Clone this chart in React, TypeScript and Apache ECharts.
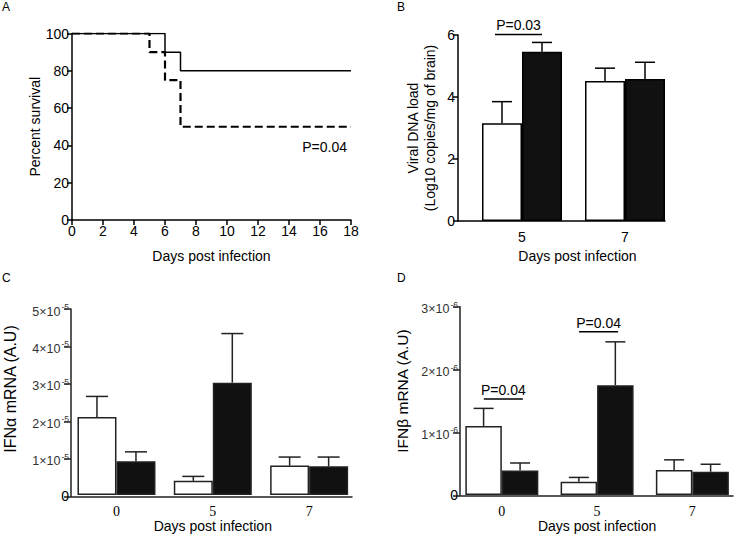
import React, { useEffect, useRef } from 'react';
import * as echarts from 'echarts';

// ---------- Data ----------
const survivalSolid: [number, number][] = [[0, 100], [6, 90], [7, 80], [18, 80]];
const survivalDashed: [number, number][] = [[0, 100], [5, 90], [6, 75], [7, 50], [18, 50]];
const survivalP = { x: 16.3, y: 39, text: 'P=0.04' };
const survivalXTicks = { min: 0, max: 18, interval: 2 };
const survivalYTicks = { min: 0, max: 100, interval: 20 };

const bDays = ['5', '7'];
const bWhite = [3.15, 4.52];
const bWhiteSem = [0.70, 0.41];
const bBlack = [5.46, 4.58];
const bBlackSem = [0.30, 0.54];
const bSig = [{ cat: 0, y: 6.02, text: 'P=0.03' }];

const cdDays = ['0', '5', '7'];
const cWhite = [2.10e-5, 0.38e-5, 0.79e-5];
const cWhiteSem = [0.55e-5, 0.12e-5, 0.23e-5];
const cBlack = [0.91e-5, 3.02e-5, 0.77e-5];
const cBlackSem = [0.25e-5, 1.32e-5, 0.25e-5];

const dWhite = [1.10e-6, 0.21e-6, 0.40e-6];
const dWhiteSem = [0.28e-6, 0.07e-6, 0.16e-6];
const dBlack = [0.39e-6, 1.75e-6, 0.37e-6];
const dBlackSem = [0.12e-6, 0.69e-6, 0.12e-6];
const dSig = [
  { cat: 0, y: 1.53e-6, text: 'P=0.04' },
  { cat: 1, y: 2.60e-6, text: 'P=0.04' },
];

// ---------- Styles ----------
const SANS = '"Liberation Sans", Arial, sans-serif';
const SERIF = '"Liberation Serif", "Times New Roman", serif';

function sciFormatter(unit: number, exp: string) {
  return (v: number) => (v === 0 ? '{z|0}' : `{b|${Math.round(v / unit)}×10}{s|${exp}}`);
}

function buildBarPanel(p: any, gi: number) {
  const fi = gi; // frame index
  const di = gi + 1; // data index
  const grids = [
    { left: p.frame.left, top: p.frame.top, width: p.frame.width, height: p.frame.height },
    { left: p.dataLeft, top: p.frame.top, width: p.dataWidth, height: p.frame.height },
  ];
  const lineStyle = { color: p.lineColor, width: 1.5 };
  const xAxes = [
    {
      gridIndex: fi, type: 'value', min: 0, max: 1,
      axisLine: { show: true, lineStyle }, axisTick: { show: false },
      axisLabel: { show: false }, splitLine: { show: false },
    },
    {
      gridIndex: di, type: 'category', data: p.cats,
      axisLine: { show: false }, axisTick: { show: false },
      axisLabel: { fontSize: 14, color: '#000', fontFamily: p.catFont, margin: p.catMargin },
      splitLine: { show: false },
      name: 'Days post infection', nameLocation: 'middle', nameGap: p.xNameGap,
      nameTextStyle: { fontSize: 14, color: '#000', fontFamily: SANS, padding: p.xNamePad || 0 },
    },
  ];
  const yAxes = [
    {
      gridIndex: fi, type: 'value', min: 0, max: p.yMax, interval: p.yInterval,
      axisLine: { show: true, lineStyle }, axisTick: { show: true, length: p.tickLen, lineStyle },
      axisLabel: {
        fontSize: 14, color: p.labelColor, fontFamily: SANS, margin: p.labelMargin,
        formatter: p.yFormatter,
        rich: p.rich,
      },
      splitLine: { show: false },
      name: p.yName || '', nameLocation: 'middle', nameGap: p.yNameGap || 0,
      nameTextStyle: { fontSize: 14, color: '#000', fontFamily: SANS, lineHeight: 17 },
    },
    { gridIndex: di, type: 'value', min: 0, max: p.yMax, show: false },
  ];
  const errSeries = (values: number[], sems: number[], side: number) => ({
    type: 'custom', xAxisIndex: di, yAxisIndex: di, z: 4,
    data: values.map((v, i) => [i, v, v + sems[i]]),
    renderItem: (_params: any, api: any) => {
      const base = api.coord([api.value(0), api.value(1)]);
      const top = api.coord([api.value(0), api.value(2)]);
      const x = base[0] + (side * p.barWidth) / 2;
      const st = { stroke: p.lineColor, lineWidth: 1.5 };
      return {
        type: 'group',
        children: [
          { type: 'line', shape: { x1: x, y1: base[1], x2: x, y2: top[1] }, style: st },
          { type: 'line', shape: { x1: x - p.capWidth / 2, y1: top[1], x2: x + p.capWidth / 2, y2: top[1] }, style: st },
        ],
      };
    },
  });
  const series: any[] = [
    {
      type: 'bar', xAxisIndex: di, yAxisIndex: di, data: p.white, barWidth: p.barWidth, barGap: '0%',
      itemStyle: { color: '#fff', borderColor: p.lineColor, borderWidth: 1.5 }, z: 3,
    },
    {
      type: 'bar', xAxisIndex: di, yAxisIndex: di, data: p.black, barWidth: p.barWidth, barGap: '0%',
      itemStyle: { color: '#111', borderColor: p.lineColor, borderWidth: 1.5 }, z: 3,
    },
    errSeries(p.white, p.whiteSem, -1),
    errSeries(p.black, p.blackSem, 1),
  ];
  if (p.sig && p.sig.length) {
    series.push({
      type: 'custom', xAxisIndex: di, yAxisIndex: di, z: 5,
      data: p.sig.map((s: any) => [s.cat, s.y]),
      renderItem: (params: any, api: any) => {
        const c = api.coord([api.value(0), api.value(1)]);
        const x1 = c[0] + p.sigSpan[0];
        const x2 = c[0] + p.sigSpan[1];
        const text = p.sig[params.dataIndex].text;
        return {
          type: 'group',
          children: [
            { type: 'line', shape: { x1, y1: c[1], x2, y2: c[1] }, style: { stroke: '#000', lineWidth: 1.5 } },
            {
              type: 'text', x: (x1 + x2) / 2, y: c[1] - 2,
              style: { text, fontSize: 14, fontFamily: SANS, fill: '#000', align: 'center', verticalAlign: 'bottom' },
            },
          ],
        };
      },
    });
  }
  return { grids, xAxes, yAxes, series };
}

function buildOption() {
  const axisLine = { show: true, lineStyle: { color: '#000', width: 1.5 } };
  const tick = { show: true, length: 5, lineStyle: { color: '#000', width: 1.5 } };
  const grids: any[] = [{ left: 72, top: 33.5, width: 279, height: 186.5 }];
  const xAxes: any[] = [
    {
      gridIndex: 0, type: 'value', ...survivalXTicks,
      axisLine, axisTick: tick,
      axisLabel: { fontSize: 14, color: '#000', fontFamily: SANS, margin: 4 },
      splitLine: { show: false },
      name: 'Days post infection', nameLocation: 'middle', nameGap: 29,
      nameTextStyle: { fontSize: 14, color: '#000', fontFamily: SANS },
    },
  ];
  const yAxes: any[] = [
    {
      gridIndex: 0, type: 'value', ...survivalYTicks,
      axisLine, axisTick: tick,
      axisLabel: { fontSize: 14, color: '#000', fontFamily: SANS, margin: 3 },
      splitLine: { show: false },
      name: 'Percent survival', nameLocation: 'middle', nameGap: 28,
      nameTextStyle: { fontSize: 14, color: '#000', fontFamily: SANS },
    },
  ];
  const series: any[] = [
    {
      type: 'line', xAxisIndex: 0, yAxisIndex: 0, data: survivalSolid, step: 'end', symbol: 'none',
      lineStyle: { color: '#000', width: 1.5 }, z: 3,
    },
    {
      type: 'line', xAxisIndex: 0, yAxisIndex: 0, data: survivalDashed, step: 'end', symbol: 'none',
      lineStyle: { color: '#000', width: 2.2, type: [8, 4] }, z: 3,
    },
    {
      type: 'custom', xAxisIndex: 0, yAxisIndex: 0,
      data: [[survivalP.x, survivalP.y]],
      renderItem: (_p: any, api: any) => {
        const c = api.coord([api.value(0), api.value(1)]);
        return {
          type: 'text', x: c[0], y: c[1],
          style: { text: survivalP.text, fontSize: 14, fontFamily: SANS, fill: '#000', align: 'center', verticalAlign: 'middle' },
        };
      },
    },
  ];

  const richSci = {
    z: { fontSize: 14, color: '#000', fontFamily: SANS },
    b: { fontSize: 12.5, color: '#333', fontFamily: SANS, padding: [5, 0, 0, 0] },
    s: { fontSize: 8.5, color: '#333', fontFamily: SANS, padding: [0, 0, 4, 1] },
  };

  const panels = [
    buildBarPanel({
      frame: { left: 458, top: 35, width: 207, height: 186 }, dataLeft: 470.5, dataWidth: 206,
      yMax: 6, yInterval: 2, labelColor: '#000', labelMargin: 3, tickLen: 5,
      yName: 'Viral DNA load\n(Log10 copies/mg of brain)', yNameGap: 20,
      cats: bDays, catFont: SANS, catMargin: 9, xNameGap: 28, xNamePad: [0, 0, 0, 8],
      white: bWhite, whiteSem: bWhiteSem, black: bBlack, blackSem: bBlackSem,
      barWidth: 40, capWidth: 20, sig: bSig, sigSpan: [-27, 20], lineColor: '#000',
    }, 1),
    buildBarPanel({
      frame: { left: 71, top: 309, width: 281, height: 187.3 }, dataLeft: 68.3, dataWidth: 289,
      yMax: 5e-5, yInterval: 1e-5, labelColor: '#333', labelMargin: 2, tickLen: 7,
      yFormatter: sciFormatter(1e-5, '-5'), rich: richSci,
      cats: cdDays, catFont: SERIF, catMargin: 9, xNameGap: 24,
      white: cWhite, whiteSem: cWhiteSem, black: cBlack, blackSem: cBlackSem,
      barWidth: 39, capWidth: 22, sig: [], sigSpan: [0, 0], lineColor: '#222',
    }, 3),
    buildBarPanel({
      frame: { left: 460, top: 306.7, width: 273, height: 188.6 }, dataLeft: 454.2, dataWidth: 289.5,
      yMax: 3e-6, yInterval: 1e-6, labelColor: '#333', labelMargin: 2, tickLen: 7,
      yFormatter: sciFormatter(1e-6, '-6'), rich: richSci,
      cats: cdDays, catFont: SERIF, catMargin: 9, xNameGap: 24,
      white: dWhite, whiteSem: dWhiteSem, black: dBlack, blackSem: dBlackSem,
      barWidth: 36.5, capWidth: 20, sig: dSig, sigSpan: [-18, 21], lineColor: '#222',
    }, 5),
  ];
  for (const pn of panels) {
    grids.push(...pn.grids);
    xAxes.push(...pn.xAxes);
    yAxes.push(...pn.yAxes);
    series.push(...pn.series);
  }

  const letter = (text: string, left: number, top: number) => ({
    type: 'text', left, top,
    style: { text, fontSize: 12, fontFamily: SANS, fill: '#000' },
  });
  const vTitle = (text: string, x: number, y: number, size: number) => ({
    type: 'text', x, y, rotation: Math.PI / 2,
    style: { text, fontSize: size, fontFamily: SANS, fill: '#000', align: 'center', verticalAlign: 'middle' },
  });

  return {
    animation: false,
    backgroundColor: '#fff',
    grid: grids,
    xAxis: xAxes,
    yAxis: yAxes,
    series,
    graphic: [
      letter('A', 2, 1),
      letter('B', 397, 1),
      letter('C', 2, 272),
      letter('D', 397, 272),
      vTitle('IFNα mRNA (A.U)', 10, 389, 16),
      vTitle('IFNβ mRNA (A.U)', 402, 391, 15.5),
    ],
  };
}

export default function App() {
  const ref = useRef<HTMLDivElement>(null);
  useEffect(() => {
    if (!ref.current) return;
    const chart = echarts.init(ref.current, undefined, { renderer: 'svg' });
    chart.setOption(buildOption() as any);
    return () => chart.dispose();
  }, []);
  return (
    <div
      ref={ref}
      style={{ position: 'fixed', left: 0, top: 0, width: 740, height: 534, background: '#fff' }}
    />
  );
}
